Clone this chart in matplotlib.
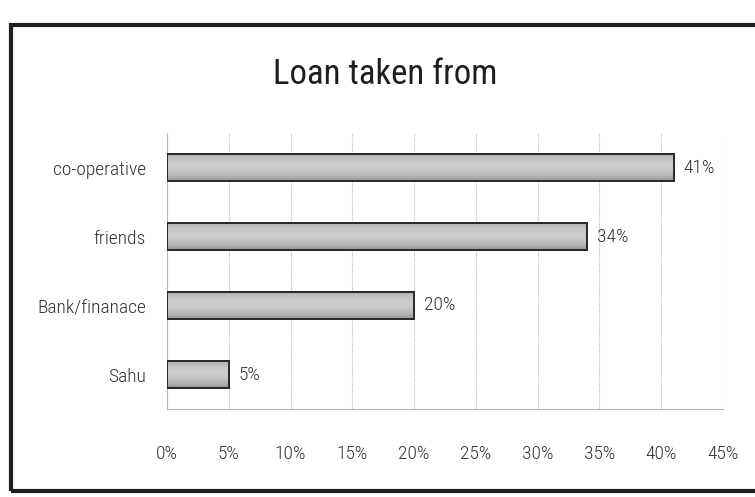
import numpy as np
import matplotlib.pyplot as plt
from matplotlib import font_manager
from matplotlib.patches import Rectangle

# Share of respondents by source of loan (%)
sources = ["co-operative", "friends", "Bank/finanace", "Sahu"]
shares = [41, 34, 20, 5]
ticks = [0, 5, 10, 15, 20, 25, 30, 35, 40, 45]

# narrow face if there is one, Lato otherwise
installed = {f.name for f in font_manager.fontManager.ttflist}
face = next((n for n in ["Liberation Sans Narrow", "Roboto Condensed", "Lato", "Roboto"]
             if n in installed), "DejaVu Sans")
plt.rcParams["font.family"] = [face, "DejaVu Sans"]
narrow = face in ("Liberation Sans Narrow", "Roboto Condensed")
LBL = 14 if narrow else 12
TEXT = "#333333"

fig = plt.figure(figsize=(7.55, 4.97), dpi=100)
fig.patch.set_facecolor("white")
ax = fig.add_axes([167 / 755, 88 / 497, 556 / 755, 276 / 497])

# top row first, like the spreadsheet layout
ypos = np.arange(len(sources))[::-1]
bars = ax.barh(ypos, shares, height=0.4, color="#b4b4b4",
               edgecolor="#2a2a2a", linewidth=1.2, zorder=3)

# rounded shading inside each bar: darker at the edges, lighter mid-height
t = np.linspace(-1, 1, 64)
grad = (0.80 - 0.18 * t ** 2 - 0.04 * t).reshape(-1, 1)
for b in bars:
    x0, y0 = b.get_x(), b.get_y()
    w, h = b.get_width(), b.get_height()
    im = ax.imshow(grad, cmap="gray", vmin=0, vmax=1, aspect="auto",
                   extent=(x0, x0 + w, y0, y0 + h), zorder=3.5,
                   interpolation="bicubic")
    im.set_clip_path(b)
    ax.add_patch(Rectangle((x0, y0), w, h, fill=False, ec="#2a2a2a",
                           lw=1.4, zorder=4))

for y, v in zip(ypos, shares):
    ax.annotate(f"{v}%", (v, y), xytext=(7, 0), textcoords="offset points",
                va="center", ha="left", fontsize=LBL, color=TEXT,
                fontweight="light")

ax.set_xlim(0, 45)
ax.set_ylim(-0.5, len(sources) - 0.5)
ax.set_xticks(ticks)
ax.set_xticklabels([f"{t}%" for t in ticks], fontweight="light")
ax.set_yticks(ypos)
ax.set_yticklabels(sources, fontweight="light")
ax.tick_params(axis="x", length=0, pad=26, labelsize=LBL, labelcolor=TEXT)
ax.tick_params(axis="y", length=0, pad=15, labelsize=LBL, labelcolor=TEXT)

ax.grid(axis="x", color="#b8b8b8", linewidth=0.8, linestyle=(0, (1, 1)), zorder=0)
for side in ["top", "right"]:
    ax.spines[side].set_visible(False)
for side in ["left", "bottom"]:
    ax.spines[side].set_color("#b8b8b8")
    ax.spines[side].set_linewidth(0.8)
    ax.spines[side].set_linestyle((0, (1, 1)))

fig.text(385 / 755, 1 - 74 / 497, "Loan taken from", ha="center", va="center",
         fontsize=25 if narrow else 23, color="#1e1e1e")

# chart frame
fig.add_artist(Rectangle((11 / 755, 1 - 491 / 497), 1.0, 466 / 497,
                         transform=fig.transFigure, fill=False,
                         ec="#1e1e1e", lw=3))

fig.savefig("out.png", dpi=100)
